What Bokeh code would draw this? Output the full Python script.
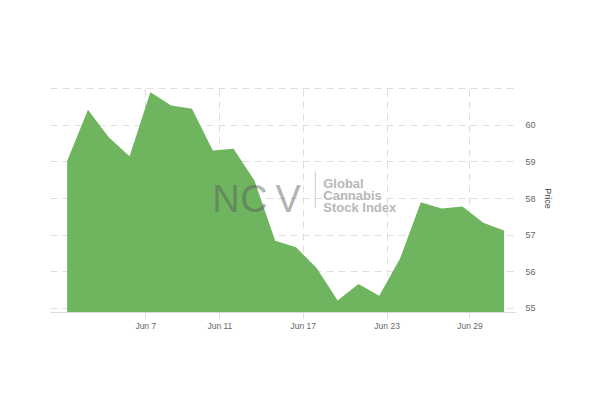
from bokeh.plotting import figure
from bokeh.models import Range1d, FixedTicker, Label
from bokeh.embed import file_html
from bokeh.resources import INLINE

# ---- data ----
PRICES = [59.02, 60.42, 59.67, 59.15, 60.90, 60.54, 60.45, 59.31, 59.36, 58.49,
          56.85, 56.67, 56.10, 55.22, 55.67, 55.35, 56.36, 57.90, 57.73, 57.78,
          57.34, 57.13]
IDX = list(range(len(PRICES)))
TICK_POS = [3.78, 7.34, 11.35, 15.38, 19.36]
TICK_LABELS = ["Jun 7", "Jun 11", "Jun 17", "Jun 23", "Jun 29"]
Y_TICKS = [55, 56, 57, 58, 59, 60, 61]

Y_MIN, Y_MAX = 54.89, 61.11
X_MIN, X_MAX = -0.80, 21.55

p = figure(width=584, height=385, output_backend="svg", toolbar_location=None,
           x_range=Range1d(X_MIN, X_MAX), y_range=Range1d(Y_MIN, Y_MAX),
           y_axis_location="right",
           min_border_left=50, min_border_top=84, min_border_right=69,
           min_border_bottom=73)
p.outline_line_color = None
p.background_fill_color = "white"
p.border_fill_color = "white"

p.varea(x=IDX, y1=[Y_MIN] * len(PRICES), y2=PRICES, fill_color="#6fb560")

# x axis
xa = p.xaxis[0]
xa.ticker = FixedTicker(ticks=TICK_POS)
xa.major_label_overrides = {t: l for t, l in zip(TICK_POS, TICK_LABELS)}
xa.axis_line_color = "#d5dae3"
xa.major_tick_line_color = "#d5dae3"
xa.major_tick_out = 6
xa.major_tick_in = 0
xa.minor_tick_line_color = None
xa.major_label_standoff = 2
xa.major_label_text_font = "Liberation Sans"
xa.major_label_text_font_size = "8.5px"
xa.major_label_text_color = "#666666"

# y axis (right)
ya = p.yaxis[0]
ya.ticker = FixedTicker(ticks=Y_TICKS)
ya.major_label_overrides = {61: ""}
ya.axis_line_color = None
ya.major_tick_line_color = None
ya.minor_tick_line_color = None
ya.major_label_standoff = 4
ya.major_label_text_font = "Liberation Sans"
ya.major_label_text_font_size = "9px"
ya.major_label_text_color = "#666666"
ya.axis_label = "Price"
ya.axis_label_text_font = "Liberation Sans"
ya.axis_label_text_font_size = "9px"
ya.axis_label_text_font_style = "normal"
ya.axis_label_text_color = "#444444"
ya.axis_label_standoff = 4

for g in (p.xgrid[0], p.ygrid[0]):
    g.grid_line_color = "#dedede"
    g.grid_line_dash = "7 5"
    g.grid_line_width = 1

# watermark
for ch, xx in zip(["N", "C", "V"], [6.98, 8.32, 10.02]):
    p.add_layout(Label(x=xx, y=58.0, text=ch, text_font="Liberation Sans",
                       text_font_size="38px", text_color="#555555",
                       text_alpha=0.45, text_baseline="alphabetic"))
p.segment(x0=[11.93], y0=[58.74], x1=[11.93], y1=[57.75],
          line_color="#cccccc", line_width=1)
for txt, yy in zip(["Global", "Cannabis", "Stock Index"], [58.42, 58.08, 57.75]):
    p.add_layout(Label(x=12.31, y=yy, text=txt, text_font="Liberation Sans",
                       text_font_size="13px", text_font_style="bold",
                       text_color="#b8b8b8", text_baseline="alphabetic"))

open("out.html", "w").write(file_html(p, INLINE))
